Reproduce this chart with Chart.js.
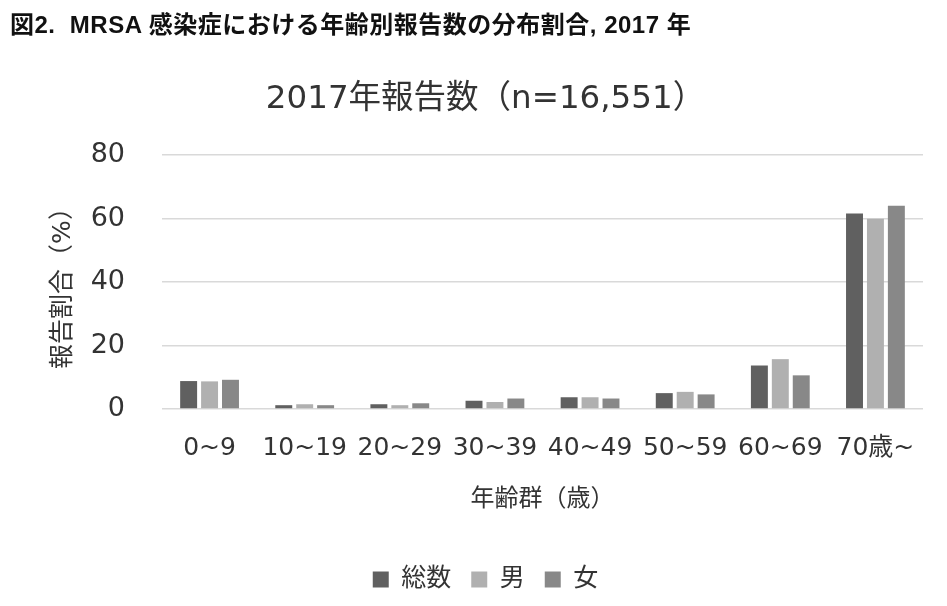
<!DOCTYPE html>
<html>
<head>
<meta charset="utf-8">
<script src="https://cdn.jsdelivr.net/npm/chart.js@4"></script>
<style>
html,body{margin:0;padding:0;background:#fff;width:947px;height:606px;overflow:hidden;}
#hdr{position:absolute;left:10px;top:5px;z-index:2;font-family:"Liberation Sans","Noto Sans CJK JP",sans-serif;font-weight:bold;font-size:24px;letter-spacing:0.5px;color:#111;white-space:nowrap;}
#wrap{position:absolute;left:0;top:0;width:947px;height:640px;}
</style>
</head>
<body>
<div id="hdr">図2.&nbsp; MRSA 感染症における年齢別報告数の分布割合, 2017 年</div>
<div id="wrap"><canvas id="c"></canvas></div>
<script>
const categories = ["0~9","10~19","20~29","30~39","40~49","50~59","60~69","70歳~"];
const total = [8.8, 1.2, 1.5, 2.6, 3.7, 5.0, 13.7, 61.6];
const male = [8.7, 1.5, 1.2, 2.2, 3.7, 5.4, 15.7, 59.9];
const female = [9.2, 1.2, 1.8, 3.3, 3.3, 4.6, 10.6, 64.0];
const yTicks = [0, 20, 40, 60, 80];

const FONT = '"DejaVu Sans", "Noto Sans CJK JP", sans-serif';
const TXT = '#333333';
new Chart(document.getElementById('c'), {
  type: 'bar',
  data: {
    labels: categories,
    datasets: [
      {label:'総数', data: total, backgroundColor:'#606060', borderWidth:0},
      {label:'男', data: male, backgroundColor:'#b0b0b0', borderWidth:0},
      {label:'女', data: female, backgroundColor:'#888888', borderWidth:0}
    ]
  },
  options: {
    responsive: true,
    maintainAspectRatio: false,
    animation: false,
    devicePixelRatio: 1,
    layout: {padding: {left: 48, right: 24, top: 0, bottom: 38}},
    datasets: {bar: {categoryPercentage: 0.66, barPercentage: 0.81}},
    plugins: {
      title: {display: true, text: '2017年報告数（n=16,551）', color: TXT,
        font: {family: FONT, size: 32.5, weight: 'normal'}, padding: {top: 80, bottom: 36}},
      legend: {position: 'bottom', labels: {color: TXT, font: {family: FONT, size: 25},
        boxWidth: 16, boxHeight: 16, padding: 20}},
      tooltip: {enabled: false}
    },
    scales: {
      x: {
        afterFit: (s) => { s.height = 138; },
        grid: {display: false, drawTicks: false},
        border: {display: false},
        ticks: {color: TXT, font: {family: FONT, size: 25}, maxRotation: 0, minRotation: 0, autoSkip: false, padding: 24},
        title: {display: true, text: '年齢群（歳）', color: TXT, font: {family: FONT, size: 24}, padding: {top: 20, bottom: 33}}
      },
      y: {
        min: 0, max: 80,
        afterFit: (s) => { s.width = 114; },
        afterBuildTicks: (s) => { s.ticks = yTicks.map(v => ({value: v})); },
        grid: {color: '#d9d9d9', lineWidth: 1.5, drawTicks: false},
        border: {display: false},
        ticks: {color: TXT, font: {family: FONT, size: 27}, padding: 37},
        title: {display: true, text: '報告割合（%）', color: TXT, font: {family: FONT, size: 25}, padding: {top: 0, bottom: 13}}
      }
    }
  }
});
</script>
</body>
</html>
